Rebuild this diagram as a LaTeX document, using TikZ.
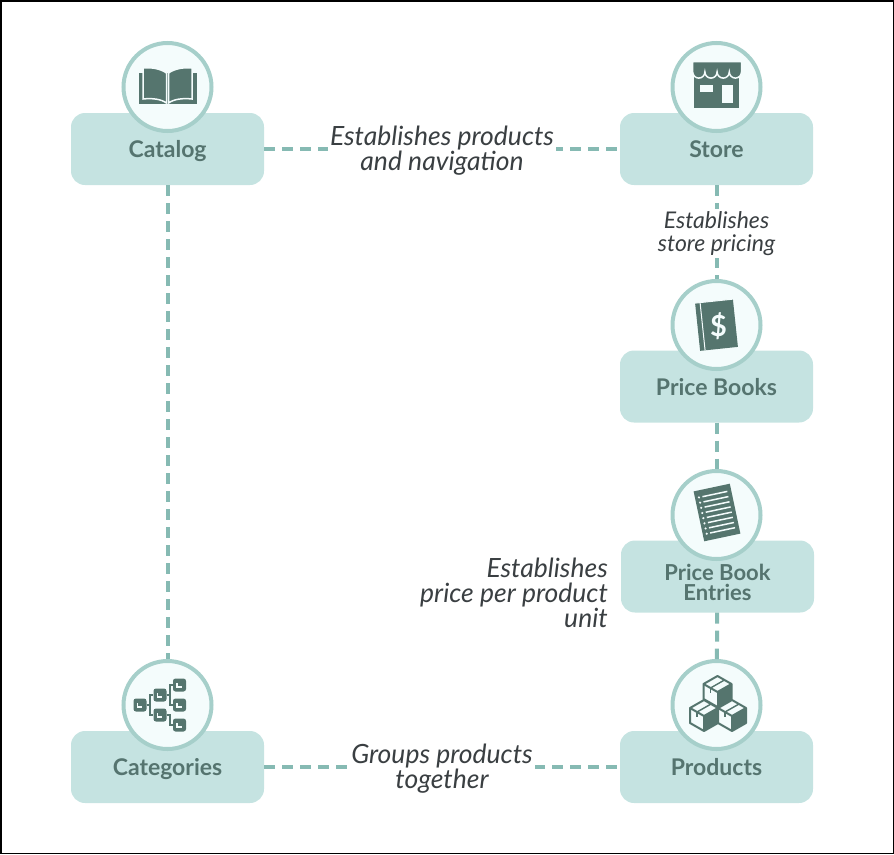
\documentclass[tikz,border=0pt]{standalone}
\usepackage{fontspec}
\setmainfont{Lato}
\usetikzlibrary{calc}
\definecolor{boxfill}{HTML}{C5E3E1}
\definecolor{diskfill}{HTML}{F4FCFC}
\definecolor{diskline}{HTML}{A6CFCA}
\definecolor{dashcol}{HTML}{86BAB3}
\definecolor{iconcol}{HTML}{55756E}
\definecolor{boxtext}{HTML}{55746F}
\definecolor{labelcol}{HTML}{3A3F42}
\newcommand{\boxstrut}{\rule[-5pt]{0pt}{27pt}}
\tikzset{
    boxnode/.style={rectangle, rounded corners=14pt, fill=boxfill, minimum width=193pt, minimum height=72pt,
        inner sep=0pt, align=center, text=boxtext, font=\fontsize{23}{19}\selectfont\bfseries},
    entrynode/.style={boxnode, font=\fontsize{22}{20.5}\selectfont\bfseries},
    disk/.style={circle, fill=diskfill, draw=diskline, line width=4pt, minimum size=88pt, inner sep=0pt},
    link/.style={draw=dashcol, line width=4pt, dash pattern=on 11pt off 7pt},
    linklabel/.style={fill=white, inner sep=2pt, align=center, text=labelcol, font=\fontsize{26.5}{25}\selectfont\itshape},
    smalllabel/.style={linklabel, font=\fontsize{23}{23}\selectfont\itshape},
    treebox/.style={rectangle, rounded corners=2.5pt, fill=iconcol, minimum size=13pt, inner sep=0pt},
    treeline/.style={draw=iconcol, line width=1.3pt},
    cubeline/.style={draw=iconcol, line width=2pt, line join=round}
}
\begin{document}
\begin{tikzpicture}[x=1pt, y=-1pt]
    \useasboundingbox (0,0) rectangle (894,854);
    \draw[black, line width=1.5pt] (0.75,0.75) rectangle (893.25,853.25);
    % Boxes
    \foreach \name/\txt/\x/\y in {Catalog/Catalog/167.5/149, Store/Store/716.5/149, Books/Price Books/716.5/386.5,
        Products/Products/716.5/767, Categories/Categories/167.5/767} {
        \node[boxnode] (Box-\name) at (\x,\y) {\boxstrut\txt};
    }
    \node[entrynode] (Box-Entries) at (717.5,576.5) {\rule{0pt}{33pt}Price Book\\\rule[-5pt]{0pt}{5pt}Entries};
    % Disks
    \foreach \name/\x/\y in {Catalog/167.5/87, Store/716.5/87, Books/716.5/325, Entries/716.5/515, Products/716.5/705, Categories/167.5/705} {
        \node[disk] (Disk-\name) at (\x,\y) {};
    }
    % Links
    \draw[link] (Box-Catalog) -- (Box-Store);
    \draw[link] (Box-Categories) -- (Box-Products);
    \draw[link] (Box-Catalog) -- (Disk-Categories);
    \draw[link] (Box-Store) -- (Disk-Books);
    \draw[link] (Box-Books) -- (Disk-Entries);
    \draw[link] (Box-Entries) -- (Disk-Products);
    % Link labels
    \node[linklabel] (Label-Catalog) at (442,151) {Establishes products\\and navigation};
    \node[linklabel] (Label-Categories) at (442,769) {Groups products\\together};
    \node[smalllabel] (Label-Store) at (716.5,233.5) {Establishes\\store pricing};
    \node[linklabel, align=right, anchor=east, fill=none, inner sep=0pt] (Label-Entries) at (608,593) {Establishes\\price per product\\unit};
    % Catalog icon
    \fill[iconcol] (139,73) rectangle (197,104);
    \filldraw[fill=iconcol, draw=diskfill, line width=1.5pt] (143,68) .. controls (152,67) and (161,69) .. (166.5,73) -- (166.5,103) .. controls (161,99) and (152,98) .. (143,99) -- cycle;
    \filldraw[fill=iconcol, draw=diskfill, line width=1.5pt] (192,68) .. controls (183,67) and (174,69) .. (168.5,73) -- (168.5,103) .. controls (174,99) and (183,98) .. (192,99) -- cycle;
    % Store icon
    \fill[iconcol] (694,74) rectangle (739,108);
    \fill[diskfill] (700,85) rectangle (713,92);
    \fill[diskfill] (722,85) rectangle (733,103);
    \filldraw[fill=iconcol, draw=diskfill, line width=1.5pt] (692.5,61.5) -- (741.5,61.5) -- (741.5,72)
        arc[start angle=0, end angle=-180, radius=6.1pt] arc[start angle=0, end angle=-180, radius=6.1pt]
        arc[start angle=0, end angle=-180, radius=6.1pt] arc[start angle=0, end angle=-180, radius=6.1pt] -- cycle;
    % Price book icon
    \begin{scope}[shift={(716.5,325)}, rotate=6]
        \fill[iconcol] (-19,-24) rectangle (19,24);
        \draw[diskfill, line width=1pt] (-14,-24) -- (-14,24);
        \draw[diskfill, line width=1pt] (-19,-24) -- (19,-24);
        \node[text=diskfill, font=\fontsize{29}{29}\selectfont\bfseries] (Dollar) at (2,1) {\$};
    \end{scope}
    % Price book entries icon
    \begin{scope}[shift={(717,512.5)}, rotate=12]
        \fill[iconcol] (-18.5,-25.5) rectangle (18.5,25.5);
        \foreach \i in {0,...,7} {
            \fill[diskfill] (-14.5,{-18.5+5.3*\i}) circle (1.2pt);
            \draw[diskfill, line width=1.5pt] (-11,{-18.5+5.3*\i}) -- (14.5,{-18.5+5.3*\i});
        }
    \end{scope}
    % Products icon
    \foreach \x/\y in {717.5/676, 704/700, 732/700} {
        \begin{scope}[shift={(\x,\y)}]
            \filldraw[cubeline, fill=diskfill] (0,0) -- (14,8) -- (14,23) -- (0,31) -- (-14,23) -- (-14,8) -- cycle;
            \fill[iconcol] (0,16) -- (14,8) -- (14,23) -- (0,31) -- cycle;
            \draw[cubeline] (-14,8) -- (0,16) -- (14,8);
            \draw[cubeline] (0,16) -- (0,31);
            \draw[iconcol, line width=1.4pt] (-7,12) -- (7,4);
            \draw[iconcol, line width=1.4pt] (-7,12) -- (-7,17);
        \end{scope}
    }
    % Categories icon
    \foreach \name/\x/\y in {Root/140/705, Midup/160/695, Middown/160/715, Top/179.5/685, Centre/179.5/705, Bottom/179.5/725} {
        \node[treebox] (Tree-\name) at (\x,\y) {};
        \draw[diskfill, line width=1.1pt] (\x-2.5,\y-2) -- (\x-2.5,\y+2) -- (\x+2,\y+2);
    }
    \draw[treeline] (Tree-Root.east) -| (150,695) -- (Tree-Midup.west);
    \draw[treeline] (Tree-Root.east) -| (150,715) -- (Tree-Middown.west);
    \draw[treeline] (Tree-Midup.east) -| (170,685) -- (Tree-Top.west);
    \draw[treeline] (Tree-Midup.east) -| (170,705) -- (Tree-Centre.west);
    \draw[treeline] (Tree-Middown.east) -| (170,725) -- (Tree-Bottom.west);
\end{tikzpicture}
\end{document}
